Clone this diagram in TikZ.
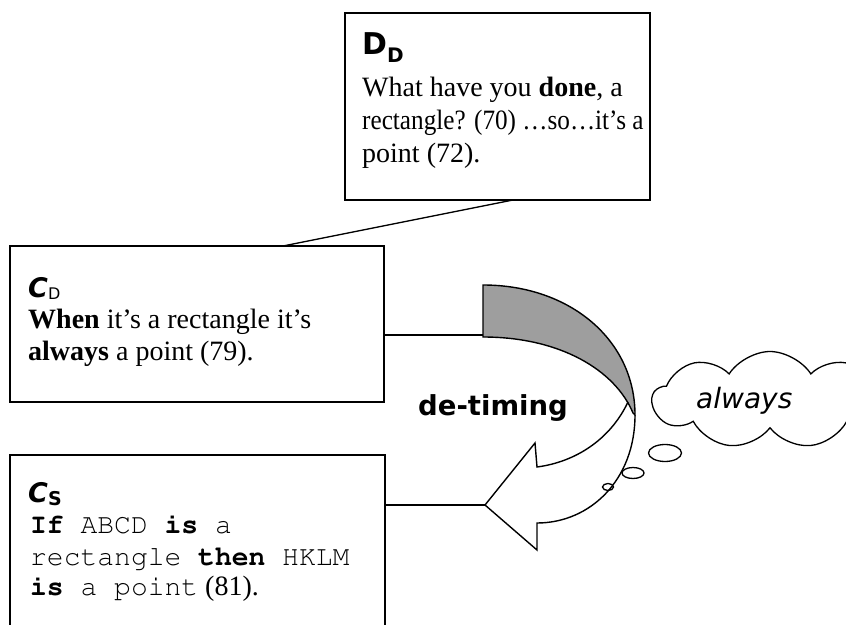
\documentclass[tikz,border=0pt]{standalone}
\usepackage{fontspec}
\usepackage[T1,TU]{fontenc}
\usepackage{graphicx}
\setmainfont{Liberation Serif}
\newfontfamily\comicf{DejaVu Sans}
\newcommand\courierf{\fontencoding{T1}\fontfamily{pcr}\selectfont}
\usetikzlibrary{shapes.symbols}
\definecolor{ribbongray}{gray}{0.62}
\begin{document}
\begin{tikzpicture}[x=1bp,y=-1bp,
  box/.style={draw, line width=1.4bp, inner sep=0pt, outer sep=0pt, anchor=north west},
  link/.style={line width=1.3bp},
  body/.style={anchor=base west, inner sep=0pt, font=\fontsize{28bp}{32bp}\selectfont},
  lbl/.style={anchor=base west, inner sep=0pt},
  ribbon/.style={line width=1.4bp, line join=miter},
  bubble/.style={draw, line width=1.3bp}
]
\path[use as bounding box] (0,0) rectangle (846,625);
\clip (0,0) rectangle (846,625);

% boxes
\node[box, minimum width=305bp, minimum height=187bp] (D) at (345,13) {};
\node[box, minimum width=374bp, minimum height=156bp] (Cd) at (10,246) {};
\node[box, minimum width=375bp, minimum height=200bp] (Cs) at (10,455) {};

% D_D text
\node[lbl] (dlab) at (362,55) {\comicf\bfseries\fontsize{30bp}{30bp}\selectfont D\raisebox{-8bp}{\fontsize{20bp}{20bp}\selectfont D}};
\node[body] (d1) at (362,97) {What have you \textbf{done}, a};
\node[body] (d2) at (362,130) {\scalebox{0.9}[1]{rectangle? (70) …so…it’s a}};
\node[body] (d3) at (362,163) {point (72).};

% C_D text
\node[lbl] (cdlab) at (28,297) {\comicf\bfseries\itshape\fontsize{27bp}{27bp}\selectfont C\upshape\mdseries\raisebox{-2bp}{\fontsize{16bp}{16bp}\selectfont D}};
\node[body] (cd1) at (28,328) {\textbf{When} it’s a rectangle it’s};
\node[body] (cd2) at (28,360) {\textbf{always} a point (79).};

% C_S text
\node[lbl] (cslab) at (28,502) {\comicf\bfseries\itshape\fontsize{27bp}{27bp}\selectfont C\upshape\raisebox{-3bp}{\fontsize{19bp}{19bp}\selectfont S}};
\node[body] (cs1) at (30,533) {\courierf\textbf{If} ABCD \textbf{is} a};
\node[body] (cs2) at (30,565) {\courierf rectangle \textbf{then} HKLM};
\node[body] (cs3) at (30,595) {{\courierf\textbf{is} a point} (81).};

% connector D -> C_D
\coordinate (dlink) at ([xshift=168bp]D.south west);
\coordinate (cdlink) at ([xshift=273bp]Cd.north west);
\draw[link] (dlink) -- (cdlink);

% ribbon arrow key points
\coordinate (rtop) at (483,285);
\coordinate (rbot) at (483,337);
\coordinate (rjoin) at (483,335);
\coordinate (rturn) at (635,415);
\coordinate (rturnin) at (633,413);
\coordinate (wstart) at (628,402);
\coordinate (hin1) at (537,467);
\coordinate (hbarb1) at (535,443);
\coordinate (tip) at (485,505);
\coordinate (hbarb2) at (537,550);
\coordinate (hin2) at (537,523);

% shaded back of ribbon
\filldraw[ribbon, fill=ribbongray] (rtop) -- (rbot)
  .. controls (560,337) and (615,370) .. (rturnin)
  -- (rturn)
  .. controls (635,340) and (570,285) .. cycle;
% white front of ribbon with head
\draw[ribbon] (rturn) .. controls (635,480) and (590,523) .. (hin2)
  -- (hbarb2) -- (tip) -- (hbarb1) -- (hin1)
  .. controls (575,462) and (610,440) .. (wstart);

% connectors from boxes to the ribbon
\draw[link] (rjoin -| Cd.east) -- (rjoin);
\draw[link] (tip -| Cs.east) -- (tip);

% label of the arrow
\node[lbl] (detiming) at (418,415) {\comicf\bfseries\fontsize{27.5bp}{27.5bp}\selectfont de-timing};

% thought cloud and bubbles
\node[cloud, draw, line width=1.3bp, cloud puffs=9, cloud puff arc=115, aspect=2.4,
      minimum width=235bp, minimum height=97bp, inner sep=0pt] (cloud) at (770,400) {};
\node[lbl] (always) at (696,408) {\comicf\itshape\fontsize{28bp}{28bp}\selectfont always};
\draw[bubble] (665,453) ellipse [x radius=16.5bp, y radius=8.5bp];
\draw[bubble] (633,473) ellipse [x radius=11bp, y radius=5.5bp];
\draw[bubble] (608,487) ellipse [x radius=5.5bp, y radius=3.5bp];
\end{tikzpicture}
\end{document}
